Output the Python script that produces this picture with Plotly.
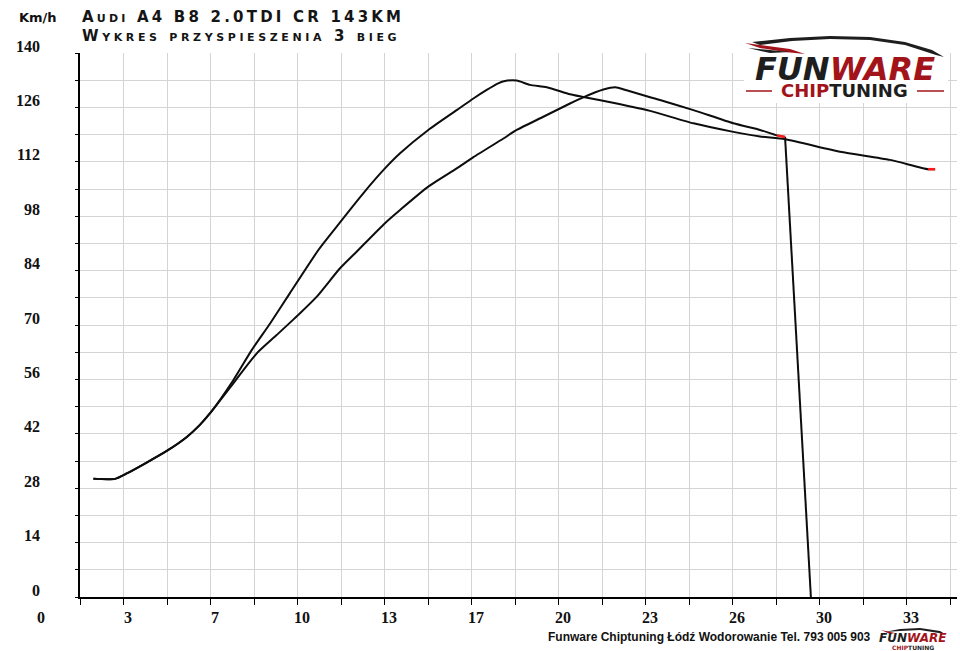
import plotly.graph_objects as go

# ---------------- data ----------------
# time axis (s) and speed (km/h)
time_a = [2.18, 3.01, 3.46, 4.22, 4.99, 5.76, 6.26, 6.65, 7.54, 8.25, 8.95, 9.71, 10.80,
          11.25, 12.52, 13.35, 13.93, 15.01, 16.10, 16.74, 17.25, 17.69, 17.95, 18.40,
          18.91, 19.55, 20.44, 20.95, 22.23, 23.51, 25.17, 26.70, 27.72, 28.68, 30.79,
          32.70, 34.16, 34.43]
speed_a = [30.4, 30.4, 31.8, 34.6, 37.6, 41.2, 44.3, 47.3, 55.8, 63.6, 70.4, 78.2, 89.3,
           93.2, 103.9, 110.3, 114.2, 120.2, 125.3, 128.3, 130.5, 132.2, 132.8, 132.9,
           131.8, 131.2, 129.4, 128.7, 127.0, 125.1, 121.9, 119.7, 118.5, 117.8, 114.6,
           112.5, 110.1, 110.1]

time_b = [2.18, 3.01, 3.46, 4.22, 4.99, 5.76, 6.26, 6.65, 7.54, 8.44, 9.20, 10.03, 10.74,
          11.63, 12.33, 13.35, 13.93, 15.01, 16.10, 16.74, 17.89, 18.40, 19.42, 20.44,
          20.95, 21.72, 22.17, 22.61, 23.51, 23.89, 25.17, 26.70, 27.72, 28.37, 28.68,
          29.67]
speed_b = [30.4, 30.4, 31.8, 34.6, 37.6, 41.2, 44.3, 47.3, 55.0, 62.7, 67.4, 72.6, 77.3,
           84.6, 89.3, 96.2, 99.6, 105.6, 110.3, 113.2, 118.0, 120.2, 123.6, 127.0,
           128.6, 130.6, 131.2, 130.4, 128.6, 127.9, 125.3, 121.9, 120.2, 118.8, 118.4,
           0.0]

x_tick_vals = [i * 5 / 3 for i in range(0, 22)]            # grid every 1/3 of label step
x_label_vals = [i * 10 / 3 for i in range(0, 11)]
x_label_text = ["0", "3", "7", "10", "13", "17", "20", "23", "26", "30", "33"]
y_grid_vals = list(range(0, 141, 7))
y_label_vals = list(range(0, 141, 14))
y_label_text = [str(v) for v in y_label_vals]

title_line1 = "Audi A4 B8 2.0TDI CR 143KM"
title_line2 = "Wykres przyspieszenia 3 bieg"
unit_label = "Km/h"
footer_text = "Funware Chiptuning Łódź Wodorowanie Tel. 793 005 903"

# ---------------- layout geometry ----------------
W, H = 960, 651
L, R, T, B = 80, 3, 53, 54
PW, PH = W - L - R, H - T - B
X0 = 5 / 3
PX_PER_S = 26.1
X1 = X0 + PW / PX_PER_S


def fx(px):
    return (px - L) / PW


def fy(py):
    return (H - B - py) / PH


fig = go.Figure()

line_col = "#0d0d0d"
fig.add_trace(go.Scatter(x=time_a, y=speed_a, mode="lines",
                         line=dict(color=line_col, width=2, shape="spline", smoothing=0.6),
                         hoverinfo="skip"))
fig.add_trace(go.Scatter(x=time_b[:-1], y=speed_b[:-1], mode="lines",
                         line=dict(color=line_col, width=2, shape="spline", smoothing=0.6),
                         hoverinfo="skip"))
# final drop of run B
fig.add_trace(go.Scatter(x=time_b[-2:], y=speed_b[-2:], mode="lines",
                         line=dict(color=line_col, width=2), hoverinfo="skip"))
# red end segments
fig.add_trace(go.Scatter(x=time_a[-2:], y=speed_a[-2:], mode="lines",
                         line=dict(color="#ff1a1a", width=2.5), hoverinfo="skip"))
fig.add_trace(go.Scatter(x=time_b[-3:-1], y=speed_b[-3:-1], mode="lines",
                         line=dict(color="#ff1a1a", width=2.5), hoverinfo="skip"))

fig.update_xaxes(range=[X0, X1], tickmode="array", tickvals=x_tick_vals,
                 showticklabels=False, showgrid=True, gridcolor="#d4d4d4", gridwidth=1.3,
                 showline=True, linecolor="black", linewidth=2,
                 ticks="outside", ticklen=6, tickcolor="black", tickwidth=1.3,
                 zeroline=False, fixedrange=True)
fig.update_yaxes(range=[0, 140], tickmode="array", tickvals=y_grid_vals,
                 showticklabels=False, showgrid=True, gridcolor="#d4d4d4", gridwidth=1.3,
                 showline=True, linecolor="black", linewidth=2,
                 ticks="outside", ticklen=3, tickcolor="black", tickwidth=1.3,
                 zeroline=False, fixedrange=True)

ann = []
tick_font = dict(family="Liberation Serif, Times New Roman, serif", size=16,
                 color="#111", weight="bold")
for v, t in zip(x_label_vals, x_label_text):
    ann.append(dict(x=(v - X0) / (X1 - X0), xref="paper", y=fy(617), yref="paper",
                    text=t, showarrow=False, xanchor="center", yanchor="middle",
                    xshift=4, font=tick_font))
for v, t in zip(y_label_vals, y_label_text):
    ann.append(dict(x=fx(42), xref="paper", y=v, yref="y", text=t, showarrow=False,
                    xanchor="right", yanchor="middle", yshift=7, font=tick_font))

ann.append(dict(x=fx(17), xref="paper", y=fy(17), yref="paper", text=unit_label,
                showarrow=False, xanchor="left", yanchor="middle",
                font=dict(family="DejaVu Sans, sans-serif", size=13, color="#111",
                          weight="bold")))
title_font = dict(family="DejaVu Sans, sans-serif", size=15, color="#151515",
                  variant="small-caps", weight="bold")
ann.append(dict(x=fx(80), xref="paper", y=fy(17), yref="paper",
                text='<span style="letter-spacing:3.2px">' + title_line1 + "</span>",
                showarrow=False, xanchor="left", yanchor="middle", font=title_font))
ann.append(dict(x=fx(80), xref="paper", y=fy(36), yref="paper",
                text='<span style="letter-spacing:3.6px">' + title_line2 + "</span>",
                showarrow=False, xanchor="left", yanchor="middle", font=title_font))
ann.append(dict(x=fx(873), xref="paper", y=fy(637), yref="paper", text=footer_text,
                showarrow=False, xanchor="right", yanchor="middle",
                font=dict(family="Liberation Sans Narrow, Arial Narrow, sans-serif",
                          size=12, color="#111", weight="bold")))

# ---- logo (top right) ----
logo_font = dict(family="DejaVu Sans, sans-serif", size=32, weight="bold", style="italic")
ann.append(dict(x=fx(845), xref="paper", y=fy(69), yref="paper",
                text='<span style="color:#1e1e1e">FUN</span><span style="color:#a3141a">WARE</span>',
                showarrow=False, xanchor="center", yanchor="middle", font=logo_font))
ann.append(dict(x=fx(844), xref="paper", y=fy(91), yref="paper",
                text='<span style="color:#a3141a">CHIP</span><span style="color:#1e1e1e">TUNING</span>',
                showarrow=False, xanchor="center", yanchor="middle",
                font=dict(family="DejaVu Sans, sans-serif", size=18, weight="bold")))
# ---- small logo (bottom right) ----
ann.append(dict(x=fx(913), xref="paper", y=fy(638), yref="paper",
                text='<span style="color:#1e1e1e">FUN</span><span style="color:#a3141a">WARE</span>',
                showarrow=False, xanchor="center", yanchor="middle",
                font=dict(family="DejaVu Sans, sans-serif", size=12, weight="bold",
                          style="italic")))
ann.append(dict(x=fx(913), xref="paper", y=fy(647), yref="paper",
                text='<span style="color:#a3141a">CHIP</span><span style="color:#1e1e1e">TUNING</span>',
                showarrow=False, xanchor="center", yanchor="middle",
                font=dict(family="DejaVu Sans, sans-serif", size=6, weight="bold")))

shapes = []
# white backing box for the logo
shapes.append(dict(type="rect", xref="paper", yref="paper", x0=fx(744), x1=fx(948),
                   y0=fy(103), y1=fy(36), fillcolor="white", line=dict(width=0),
                   layer="above"))


def path(points):
    s = "M " + " L ".join(f"{fx(a):.5f},{fy(b):.5f}" for a, b in points) + " Z"
    return s


# car roof silhouette
shapes.append(dict(type="path", xref="paper", yref="paper", layer="above",
                   path=path([(752, 42), (790, 38), (830, 36), (870, 37), (905, 42),
                              (932, 50), (944, 57), (936, 55), (905, 45), (870, 40),
                              (830, 39), (792, 41), (760, 45)]),
                   fillcolor="#1e1e1e", line=dict(width=0)))
shapes.append(dict(type="path", xref="paper", yref="paper", layer="above",
                   path=path([(745, 43), (760, 45), (790, 49), (805, 54), (785, 52),
                              (760, 48)]),
                   fillcolor="#a3141a", line=dict(width=0)))
shapes.append(dict(type="path", xref="paper", yref="paper", layer="above",
                   path=path([(748, 48), (790, 52), (770, 53)]),
                   fillcolor="#1e1e1e", line=dict(width=0)))
# red rules beside CHIPTUNING
shapes.append(dict(type="line", xref="paper", yref="paper", layer="above",
                   x0=fx(746), x1=fx(772), y0=fy(91), y1=fy(91),
                   line=dict(color="#a3141a", width=1.5)))
shapes.append(dict(type="line", xref="paper", yref="paper", layer="above",
                   x0=fx(917), x1=fx(944), y0=fy(91), y1=fy(91),
                   line=dict(color="#a3141a", width=1.5)))
# small logo swoosh
shapes.append(dict(type="path", xref="paper", yref="paper", layer="above",
                   path=path([(884, 632), (900, 629), (920, 628), (940, 631), (945, 634),
                              (920, 630), (900, 631)]),
                   fillcolor="#1e1e1e", line=dict(width=0)))
shapes.append(dict(type="path", xref="paper", yref="paper", layer="above",
                   path=path([(881, 630), (895, 633), (890, 634)]),
                   fillcolor="#a3141a", line=dict(width=0)))

fig.update_layout(width=W, height=H, margin=dict(l=L, r=R, t=T, b=B),
                  paper_bgcolor="white", plot_bgcolor="white", showlegend=False,
                  annotations=ann, shapes=shapes)

fig.write_html("out.html", config={"displayModeBar": False},
               post_script="document.body.style.margin='0';document.body.style.overflow='hidden';")
